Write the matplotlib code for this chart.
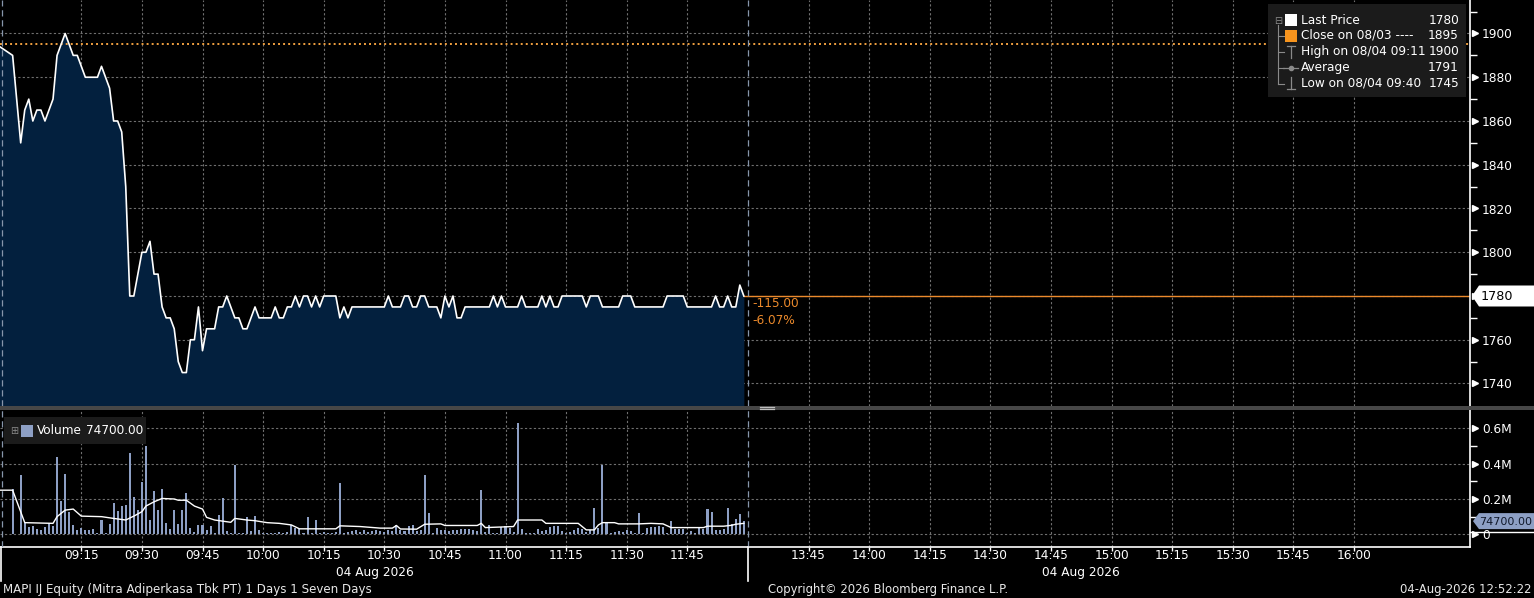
import matplotlib
matplotlib.use("Agg")
import matplotlib.pyplot as plt
from matplotlib.patches import Rectangle, Polygon
from matplotlib.lines import Line2D
import matplotlib.transforms as mtrans

# ---------------- data ----------------
preopen_times = ["08:54", "08:58"]
preopen_prices = [1895, 1890]
preopen_volume_time = "08:58"
preopen_volume = 259000

# one price per minute, 09:00 ... 11:59
price_per_minute = [
    1850, 1865, 1870, 1860, 1865, 1865, 1860, 1865, 1870, 1890,
    1895, 1900, 1895, 1890, 1890, 1885, 1880, 1880, 1880, 1880,
    1885, 1880, 1875, 1860, 1860, 1855, 1830, 1780, 1780, 1790,
    1800, 1800, 1805, 1790, 1790, 1775, 1770, 1770, 1765, 1750,
    1745, 1745, 1760, 1760, 1775, 1755, 1765, 1765, 1765, 1775,
    1775, 1780, 1775, 1770, 1770, 1765, 1765, 1770, 1775, 1770,
    1770, 1770, 1770, 1775, 1770, 1770, 1775, 1775, 1780, 1775,
    1780, 1780, 1775, 1780, 1775, 1780, 1780, 1780, 1780, 1770,
    1775, 1770, 1775, 1775, 1775, 1775, 1775, 1775, 1775, 1775,
    1775, 1780, 1775, 1775, 1775, 1780, 1780, 1775, 1775, 1780,
    1780, 1775, 1775, 1775, 1770, 1780, 1775, 1780, 1770, 1770,
    1775, 1775, 1775, 1775, 1775, 1775, 1775, 1780, 1775, 1780,
    1775, 1775, 1775, 1775, 1780, 1775, 1775, 1775, 1775, 1780,
    1775, 1780, 1775, 1775, 1780, 1780, 1780, 1780, 1780, 1780,
    1775, 1780, 1780, 1780, 1775, 1775, 1775, 1775, 1775, 1780,
    1780, 1780, 1775, 1775, 1775, 1775, 1775, 1775, 1775, 1775,
    1780, 1780, 1780, 1780, 1780, 1775, 1775, 1775, 1775, 1775,
    1775, 1775, 1780, 1775, 1775, 1780, 1775, 1775, 1785, 1780,
]

# volume per minute in thousand shares, 09:00 ... 11:59
volume_k_per_minute = [
    334, 63, 44, 48, 31, 22, 40, 63, 48, 436,
    190, 340, 128, 53, 25, 35, 25, 22, 31, 8,
    81, 10, 57, 180, 134, 160, 165, 460, 210, 137,
    296, 502, 81, 244, 137, 259, 63, 31, 137, 59,
    137, 236, 38, 14, 50, 53, 25, 48, 8, 109,
    203, 16, 5, 395, 8, 5, 96, 16, 103, 25,
    8, 6, 10, 8, 12, 10, 12, 53, 35, 30,
    10, 96, 10, 81, 10, 12, 8, 10, 15, 293,
    10, 12, 20, 22, 15, 25, 15, 20, 25, 20,
    15, 22, 20, 53, 25, 20, 48, 53, 20, 25,
    334, 122, 10, 35, 22, 25, 18, 22, 25, 30,
    28, 30, 25, 20, 250, 12, 53, 10, 8, 44,
    48, 35, 15, 631, 31, 10, 8, 5, 31, 20,
    25, 44, 48, 48, 20, 10, 15, 25, 35, 31,
    14, 25, 147, 35, 390, 70, 8, 12, 20, 15,
    25, 20, 10, 122, 10, 35, 44, 40, 48, 40,
    10, 75, 30, 30, 30, 8, 16, 10, 35, 31,
    143, 128, 25, 22, 29, 149, 57, 89, 115, 74.7,
]

# volume average line (thousand shares)
vol_avg_times = ["08:55", "08:58", "09:01", "09:08", "09:09", "09:11", "09:13", "09:15",
                 "09:20", "09:23", "09:26", "09:28", "09:30", "09:31", "09:33", "09:35",
                 "09:38", "09:39", "09:41", "09:43", "09:45", "09:46", "09:48", "09:52",
                 "09:53", "09:56", "09:58", "10:01", "10:04", "10:07", "10:09", "10:18",
                 "10:19", "10:24", "10:29", "10:32", "10:33", "10:34", "10:38", "10:40",
                 "10:44", "10:45", "10:53", "10:54", "10:55", "11:02", "11:03", "11:09",
                 "11:10", "11:18", "11:20", "11:22", "11:23", "11:24", "11:27", "11:28",
                 "11:33", "11:36", "11:39", "11:41", "11:49", "11:50", "11:54", "11:56",
                 "11:57", "11:59"]
vol_avg_k = [250, 250, 66, 62, 100, 137, 143, 103,
             100, 90, 81, 103, 128, 160, 184, 203,
             200, 193, 193, 160, 143, 96, 81, 68,
             90, 81, 77, 66, 62, 53, 31, 31,
             48, 44, 35, 35, 50, 30, 29, 57,
             59, 50, 50, 62, 38, 44, 81, 81,
             62, 62, 25, 25, 53, 66, 66, 59,
             59, 62, 59, 38, 38, 46, 46, 51,
             57, 62]

time_tick_labels = ["09:15", "09:30", "09:45", "10:00", "10:15", "10:30", "10:45",
                    "11:00", "11:15", "11:30", "11:45",
                    "13:45", "14:00", "14:15", "14:30", "14:45", "15:00", "15:15",
                    "15:30", "15:45", "16:00"]
price_ticks = [1740, 1760, 1780, 1800, 1820, 1840, 1860, 1880, 1900]
volume_ticks = [0, 200000, 400000, 600000]
volume_tick_labels = ["0", "0.2M", "0.4M", "0.6M"]

prev_close = 1895
last_price = 1780
last_volume = 74700
change_text = "-115.00"
change_pct_text = "-6.07%"
legend_rows = [("Last Price", "1780"), ("Close on 08/03 ----", "1895"),
               ("High on 08/04 09:11", "1900"), ("Average", "1791"),
               ("Low on 08/04 09:40", "1745")]
date_label = "04 Aug 2026"
footer_left = "MAPI IJ Equity (Mitra Adiperkasa Tbk PT) 1 Days 1 Seven Days"
footer_mid = "Copyright\u00a9 2026 Bloomberg Finance L.P."
footer_right = "04-Aug-2026 12:52:22"


def to_m(t):
    """Trading-minute axis: session 1 from 09:00, lunch break collapsed, session 2 from 13:30."""
    h, mm = map(int, t.split(":"))
    tot = h * 60 + mm
    if tot <= 12 * 60:
        return tot - 9 * 60
    return 180 + tot - (13 * 60 + 30)


# ---------------- layout ----------------
W, H = 1534, 598
plt.rcParams['font.family'] = ['DejaVu Sans']
fig = plt.figure(figsize=(W / 100, H / 100), dpi=100, facecolor="black")


def fx(x):
    return x / W


def fy(y):
    return 1 - y / H


PXM = 4.04          # pixels per minute
X0 = 20.7           # pixel of 09:00
PLOT_R = 1470
XL = (-X0 / PXM, (PLOT_R - X0) / PXM)

P_TOP, P_BOT = 0, 406
P1900, PPU = 33.5, 2.1875
PY = (1900 - (P_BOT - P1900) / PPU, 1900 + (P1900 - P_TOP) / PPU)

V_TOP, V_BOT = 410, 547
V0, VPM = 534.3, 176.5
VY = (-(V_BOT - V0) / VPM * 1e6, (V0 - V_TOP) / VPM * 1e6)

pax = fig.add_axes([0, fy(P_BOT), fx(PLOT_R), (P_BOT - P_TOP) / H])
vax = fig.add_axes([0, fy(V_BOT), fx(PLOT_R), (V_BOT - V_TOP) / H])

GRID_C = "#6f6f6f"
SESS_C = "#8796ab"
NAVY = "#03203e"
ORANGE = "#ec8a2c"
VOL_C = "#8d9fc4"
FS = 8.7

tick_pos = [to_m(t) for t in time_tick_labels]
session_break = to_m("12:00")

for ax in (pax, vax):
    ax.set_facecolor("black")
    ax.set_xlim(XL)
    for s in ("left", "top"):
        ax.spines[s].set_visible(False)
    ax.spines["right"].set_color("white")
    ax.spines["right"].set_linewidth(1.2)
    ax.yaxis.tick_right()
    for p in tick_pos:
        ax.axvline(p, color=GRID_C, lw=0.8, dashes=(2, 2), zorder=0.5)
    ax.axvline(session_break, color=SESS_C, lw=0.9, dashes=(5, 3), zorder=3)
    ax.plot([2 / PLOT_R] * 2, [0, 1], transform=ax.transAxes, color=SESS_C, lw=0.9,
            dashes=(5, 3), zorder=3)

# ---------- price panel ----------
pax.set_ylim(PY)
pax.spines["bottom"].set_visible(False)
for t in price_ticks:
    pax.axhline(t, color=GRID_C, lw=0.8, dashes=(2, 2), zorder=0.5)

px_m = [to_m(t) for t in preopen_times] + list(range(len(price_per_minute)))
py_v = preopen_prices + price_per_minute
pax.fill_between(px_m, py_v, PY[0], color=NAVY, lw=0, zorder=1)
pax.plot(px_m, py_v, color="white", lw=1.2, zorder=4)

pax.axhline(prev_close, color="#f0a040", lw=1.4, dashes=(1, 1.6), zorder=2)
pax.plot([px_m[-1], XL[1]], [last_price, last_price], color=ORANGE, lw=1.0, zorder=2)

pax.set_yticks(price_ticks)
pax.set_yticklabels([str(t) for t in price_ticks])
pax.set_yticks([t + 10 for t in price_ticks], minor=True)
pax.tick_params(axis="y", which="major", length=0, pad=8.5, labelsize=FS, labelcolor="white")
pax.tick_params(axis="y", which="minor", length=5, width=1, color="white", direction="out")
pax.set_xticks([])
btr = mtrans.blended_transform_factory(pax.transAxes, pax.transData)
pax.plot([1 + 4.5 / PLOT_R] * len(price_ticks), price_ticks, ls="none", marker=">", ms=5,
         color="white", transform=btr, clip_on=False, zorder=6)

fig.text(fx(752), fy(303.5), change_text, color=ORANGE, fontsize=FS, va="center", ha="left")
fig.text(fx(752), fy(321), change_pct_text, color=ORANGE, fontsize=FS, va="center", ha="left")

# ---------- volume panel ----------
vax.set_ylim(VY)
vax.spines["bottom"].set_color("white")
vax.spines["bottom"].set_linewidth(1.2)
for t in volume_ticks:
    vax.axhline(t, color=GRID_C, lw=0.8, dashes=(2, 2), zorder=0.5)

vx = [to_m(preopen_volume_time)] + list(range(len(volume_k_per_minute)))
vv = [preopen_volume] + [v * 1000 for v in volume_k_per_minute]
vax.bar(vx, vv, width=0.5, color=VOL_C, lw=0, zorder=2)
vax.plot([to_m(t) for t in vol_avg_times], [v * 1000 for v in vol_avg_k], color="white",
         lw=1.0, zorder=3)

vax.set_yticks(volume_ticks)
vax.set_yticklabels(volume_tick_labels)
vax.set_yticks([100000, 300000, 500000], minor=True)
vax.tick_params(axis="y", which="major", length=0, pad=8.5, labelsize=FS, labelcolor="white")
vax.tick_params(axis="y", which="minor", length=5, width=1, color="white", direction="out")
vbtr = mtrans.blended_transform_factory(vax.transAxes, vax.transData)
vax.plot([1 + 4.5 / PLOT_R] * len(volume_ticks), volume_ticks, ls="none", marker=">", ms=5,
         color="white", transform=vbtr, clip_on=False, zorder=6)

vax.set_xticks(tick_pos)
vax.set_xticklabels(time_tick_labels)
vax.tick_params(axis="x", which="major", direction="out", length=3, width=1, color="white",
                labelsize=FS, labelcolor="white", pad=-1.5)

# ---------- decorations ----------
def fline(x0, y0, x1, y1, **kw):
    fig.add_artist(Line2D([fx(x0), fx(x1)], [fy(y0), fy(y1)], transform=fig.transFigure, **kw))


def frect(x0, y0, x1, y1, **kw):
    fig.add_artist(Rectangle((fx(x0), fy(y1)), fx(x1) - fx(x0), (y1 - y0) / H,
                             transform=fig.transFigure, **kw))


# separator between panels
frect(0, 406, W, 410, color="#474747", lw=0, zorder=5)
fline(760, 407.4, 774, 407.4, color="#bdbdbd", lw=0.9, zorder=6)
fline(760, 409.2, 774, 409.2, color="#bdbdbd", lw=0.9, zorder=6)

# session dividers under the time axis
fline(1, 547, 1, 581, color="white", lw=1.2)
fline(748, 547, 748, 581, color="white", lw=1.2)

fig.text(fx(375), fy(572.5), date_label, color="white", fontsize=FS, ha="center", va="center")
fig.text(fx(1081), fy(572.5), date_label, color="white", fontsize=FS, ha="center", va="center")

fig.text(fx(3), fy(590), footer_left, color="#e8e8e8", fontsize=8.6, ha="left", va="center")
fig.text(fx(768), fy(590), footer_mid, color="#e8e8e8", fontsize=8.4, ha="left", va="center")
fig.text(fx(1531), fy(590), footer_right, color="#e8e8e8", fontsize=8.4, ha="right", va="center")

# last price box on the price axis
yl = P1900 + (1900 - last_price) * PPU
fig.add_artist(Polygon([(fx(1472), fy(yl)), (fx(1479), fy(yl - 10.5)), (fx(W), fy(yl - 10.5)),
                        (fx(W), fy(yl + 10.5)), (fx(1479), fy(yl + 10.5))],
                       closed=True, transform=fig.transFigure, color="white", lw=0, zorder=8))
fig.text(fx(1481), fy(yl + 0.5), str(last_price), color="black", fontsize=9.2, ha="left",
         va="center", zorder=9)

# last volume box on the volume axis
yv = V0 - last_volume / 1e6 * VPM
fig.add_artist(Polygon([(fx(1473), fy(yv)), (fx(1479), fy(yv - 8)), (fx(W), fy(yv - 8)),
                        (fx(W), fy(yv + 8)), (fx(1479), fy(yv + 8))],
                       closed=True, transform=fig.transFigure, color=VOL_C, lw=0, zorder=8))
fig.text(fx(1479), fy(yv + 0.5), f"{last_volume:.2f}", color="#10182a", fontsize=8.0,
         ha="left", va="center", zorder=9)
fline(1470, 531.8, W, 531.8, color="white", lw=1.0, zorder=7)

# price legend
frect(1268, 4, 1466, 97, color="#1b1b1b", lw=0, zorder=7)
row_y = [20.5, 35.5, 51.5, 67.5, 83.5]
LG = "#8a8a8a"
fig.text(fx(1278), fy(row_y[0]), "\u229f", color=LG, fontsize=7, ha="center", va="center", zorder=9)
fline(1278, 25, 1278, 84, color=LG, lw=0.8, zorder=8)
for yy in row_y[1:]:
    fline(1278, yy, 1284, yy, color=LG, lw=0.8, zorder=8)
frect(1285, 14.5, 1297, 26, color="white", lw=0, zorder=8)
frect(1285, 30, 1297, 41.5, color="#f7941d", lw=0, zorder=8)
# high marker
fline(1291, 46, 1291, 58, color=LG, lw=0.9, zorder=8)
fline(1287, 46, 1295, 46, color=LG, lw=0.9, zorder=8)
# average marker
fline(1283, 67.5, 1298, 67.5, color=LG, lw=0.9, zorder=8)
fig.add_artist(Line2D([fx(1291)], [fy(67.5)], marker="o", ms=3, color=LG,
                      transform=fig.transFigure, zorder=9))
# low marker
fline(1291, 77, 1291, 89, color=LG, lw=0.9, zorder=8)
fline(1287, 89, 1295, 89, color=LG, lw=0.9, zorder=8)
for (lab, val), yy in zip(legend_rows, row_y):
    fig.text(fx(1301), fy(yy), lab, color="white", fontsize=FS, ha="left", va="center", zorder=9)
    fig.text(fx(1459), fy(yy), val, color="white", fontsize=FS, ha="right", va="center", zorder=9)

# volume legend
frect(4, 417, 146, 444, color="#1b1b1b", lw=0, zorder=7)
fig.text(fx(14), fy(430.5), "\u229e", color=LG, fontsize=7, ha="center", va="center", zorder=9)
frect(21, 424.5, 33, 436.5, color=VOL_C, lw=0, zorder=8)
fig.text(fx(37), fy(430.5), "Volume", color="white", fontsize=FS, ha="left", va="center", zorder=9)
fig.text(fx(86), fy(430.5), f"{last_volume:.2f}", color="white", fontsize=FS, ha="left",
         va="center", zorder=9)

fig.savefig("out.png", dpi=100, facecolor="black")
